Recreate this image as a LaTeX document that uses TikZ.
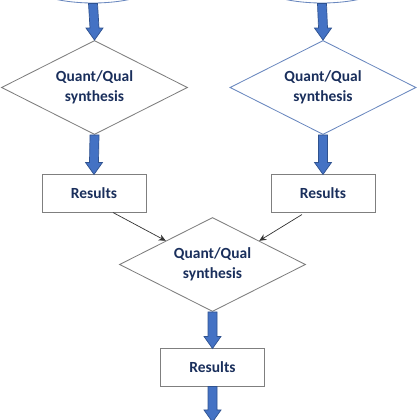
\documentclass[tikz,border=0pt]{standalone}
\usepackage{fontspec}
\setmainfont{Carlito}
\usepackage{xcolor}
\usetikzlibrary{shapes}
\usetikzlibrary{calc}
\usetikzlibrary{arrows.meta}
\definecolor{txtnavy}{HTML}{1A2F5C}
\definecolor{arrowblue}{HTML}{4472C4}
\definecolor{arrowedge}{HTML}{2F528F}
\definecolor{ovaledge}{HTML}{6A88BF}
\definecolor{lineGray}{HTML}{7F7F7F}
\tikzset{mydiamond/.style={diamond, shape aspect=2, draw=lineGray, fill=white, line width=0.6pt, minimum width=4.65cm, minimum height=2.35cm, inner sep=0pt, align=center, font=\fontsize{11}{14}\selectfont\bfseries, text=txtnavy}}
\tikzset{mybox/.style={draw=lineGray, fill=white, line width=0.6pt, minimum width=2.6cm, minimum height=0.93cm, font=\fontsize{11}{14}\selectfont\bfseries, text=txtnavy}}
\tikzset{myoval/.style={ellipse, draw=ovaledge, fill=white, line width=0.6pt, minimum width=3.75cm, minimum height=1.4cm}}
\tikzset{myfat/.style={draw=arrowedge, fill=arrowblue, line width=0.5pt, line join=miter,
  to path={($(\tikztostart)+(-4.5,0)$) -- ($(\tikztotarget)+(-4.5,12)$) -- ($(\tikztotarget)+(-8.5,12)$)
    -- (\tikztotarget) -- ($(\tikztotarget)+(8.5,12)$) -- ($(\tikztotarget)+(4.5,12)$)
    -- ($(\tikztostart)+(4.5,0)$) -- cycle}}}
\tikzset{mythin/.style={draw=black!80, line width=0.5pt, -{Stealth[length=5pt,width=4.5pt]}}}

\begin{document}
\begin{tikzpicture}[x=0.025cm, y=0.025cm]

\useasboundingbox (0,0) rectangle (420,420);

% sources (cut by the top edge)
\node[myoval] (o1) at (93, 445) {};
\node[myoval] (o2) at (322, 445) {};

\node[mydiamond] (d1) at (94.5, 332.5) {Quant/Qual\\synthesis};
\node[mydiamond, draw=ovaledge] (d2) at (323, 332.5) {Quant/Qual\\synthesis};

\node[mybox] (r1) at (94, 226.5) {Results};
\node[mybox] (r2) at (323, 226.5) {Results};

\node[mydiamond] (d3) at (212.5, 155.5) {Quant/Qual\\synthesis};

\node[mybox] (r3) at (212.5, 52.5) {Results};

\coordinate (out) at (212.5, -2);

\draw[myfat] (o1.south) to (d1.north);
\draw[myfat] (o2.south) to (d2.north);
\draw[myfat] (d1.south) to (r1.north);
\draw[myfat] (d2.south) to (r2.north);
\draw[myfat] (d3.south) to (r3.north);
\draw[myfat] (r3.south) to (out);

\draw[mythin] ($(r1.south)+(19,0)$) -- (d3.north west);
\draw[mythin] ($(r2.south)+(-21,-2)$) -- (d3.north east);

\end{tikzpicture}
\end{document}
